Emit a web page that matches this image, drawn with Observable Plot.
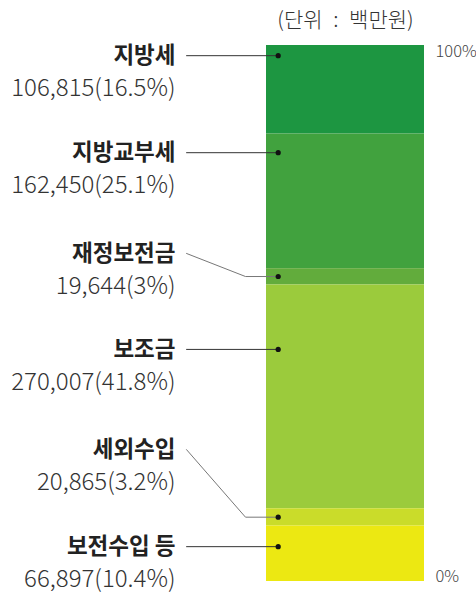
<!DOCTYPE html>
<html>
<head>
<meta charset="utf-8">
<script src="https://cdn.jsdelivr.net/npm/d3@7"></script>
<script src="https://cdn.jsdelivr.net/npm/@observablehq/plot@0.6"></script>
<style>
  html, body { margin: 0; padding: 0; background: #fff; }
</style>
</head>
<body>
<div id="chart"></div>
<script>
// ---- data ----
const names = ["지방세", "지방교부세", "재정보전금", "보조금", "세외수입", "보전수입 등"];
const values = [106815, 162450, 19644, 270007, 20865, 66897];
const shares = [16.5, 25.1, 3, 41.8, 3.2, 10.4];
const unitLabel = "(단위 : 백만원)";
const tickLabels = ["0%", "100%"];

// ---- styling / annotation layout (percent of total) ----
const colors = ["#1d9641", "#41a23e", "#62ac3c", "#9bcb3c", "#cadc2a", "#ece812"];
const labelPct = [98.1, 80.0, 61.2, 43.3, 24.6, 6.5];
const dotPct   = [98.1, 80.0, 56.9, 43.3, 12.0, 6.5];

const total = d3.sum(values);
const data = names.map((name, i) => ({
  name, value: values[i], share: shares[i],
  label: labelPct[i] * total / 100,
  dot: dotPct[i] * total / 100,
  bent: labelPct[i] !== dotPct[i]
}));

// x positions in bar-width units (bar spans 0..1)
const X_LABEL = -0.576, X_START = -0.506, X_BEND = -0.133, X_DOT = 0.074;

const straight = [], bent = [];
for (const d of data) {
  if (d.bent) {
    bent.push({name: d.name, x: X_START, y: d.label});
    bent.push({name: d.name, x: X_BEND, y: d.dot});
    bent.push({name: d.name, x: X_DOT, y: d.dot});
  } else {
    straight.push({name: d.name, x: X_START, y: d.label});
    straight.push({name: d.name, x: X_DOT, y: d.dot});
  }
}

const fmt = d3.format(",");
const font = "'Noto Sans CJK KR', 'Noto Sans', sans-serif";

const chart = Plot.plot({
  width: 476,
  height: 594,
  marginTop: 45,
  marginBottom: 13,
  marginLeft: 266,
  marginRight: 52,
  x: {domain: [0, 1], axis: null},
  y: {domain: [0, total], axis: null},
  color: {domain: names, range: colors},
  style: {fontFamily: font, background: "#fff", overflow: "visible"},
  marks: [
    Plot.rectY(data, Plot.stackY({x1: 0, x2: 1, y: "value", fill: "name", reverse: true})),
    Plot.line(straight, {x: "x", y: "y", z: "name", stroke: "#333", strokeWidth: 1}),
    Plot.line(bent, {x: "x", y: "y", z: "name", stroke: "#777", strokeWidth: 1}),
    Plot.dot(data, {x: X_DOT, y: "dot", r: 2.6, fill: "#111", stroke: null}),
    Plot.text(data, {x: X_LABEL, y: "label", text: "name", textAnchor: "end",
      fontWeight: 700, fontSize: 22.5, fill: "#222", letterSpacing: "-0.3px"}),
    Plot.text(data, {x: X_LABEL, y: "label", dy: 33, text: d => `${fmt(d.value)}(${d.share}%)`,
      textAnchor: "end", fontWeight: 300, fontSize: 24, fill: "#333", letterSpacing: "0.1px"}),
    Plot.text([tickLabels[1]], {x: 1, y: total, dx: 11, text: d => d, textAnchor: "start",
      lineAnchor: "top", fontSize: 16.5, fontWeight: 300, fill: "#444"}),
    Plot.text([tickLabels[0]], {x: 1, y: 0, dx: 11, text: d => d, textAnchor: "start",
      lineAnchor: "bottom", fontSize: 16.5, fontWeight: 300, fill: "#444"}),
    Plot.text([unitLabel], {x: 0.5, y: total, dy: -25, text: d => d, textAnchor: "middle",
      lineAnchor: "middle", fontSize: 21, fontWeight: 300, fill: "#333"})
  ]
});
d3.select(chart).selectAll("text").filter(function () { return this.textContent === unitLabel; })
  .style("word-spacing", "6px");
document.getElementById("chart").appendChild(chart);
</script>
</body>
</html>
